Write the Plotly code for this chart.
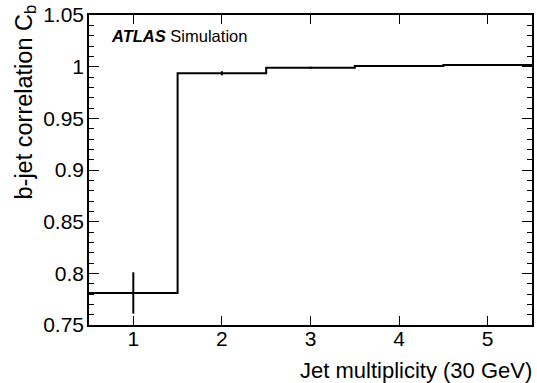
import plotly.graph_objects as go

# Data
bin_centers = [1, 2, 3, 4, 5]
bin_width = 1.0
cb_values = [0.781, 0.9936, 0.9990, 1.0006, 1.0015]
cb_errors = [0.020, 0.0020, 0.0010, 0.0008, 0.0008]
y_tick_vals = [0.75, 0.8, 0.85, 0.9, 0.95, 1.0, 1.05]
y_tick_text = ["0.75", "0.8", "0.85", "0.9", "0.95", "1", "1.05"]
x_tick_vals = [1, 2, 3, 4, 5]
x_tick_text = ["1", "2", "3", "4", "5"]

edges = [c - bin_width / 2 for c in bin_centers] + [bin_centers[-1] + bin_width / 2]
step_y = cb_values + [cb_values[-1]]

FONT = "Liberation Sans, Arial, Helvetica, sans-serif"

fig = go.Figure()
fig.add_trace(go.Scatter(
    x=edges, y=step_y, mode="lines", line=dict(color="black", width=2, shape="hv"),
    showlegend=False, hoverinfo="skip"))
fig.add_trace(go.Scatter(
    x=bin_centers, y=cb_values, mode="markers", marker=dict(size=1, color="black", opacity=0),
    error_y=dict(type="data", array=cb_errors, visible=True, color="black", thickness=2, width=0),
    showlegend=False))

axis_common = dict(
    showline=True, linecolor="black", linewidth=1.5, mirror="ticks",
    ticks="inside", tickcolor="black", tickwidth=1.2,
    showgrid=False, zeroline=False,
    tickfont=dict(family=FONT, size=21, color="black"),
)

fig.update_xaxes(range=[0.5, 5.5], tickvals=x_tick_vals, ticktext=x_tick_text,
                 ticklen=9, ticklabelstandoff=-6, **axis_common)
fig.update_yaxes(range=[0.75, 1.05], tickvals=y_tick_vals, ticktext=y_tick_text,
                 ticklen=10, ticklabelstandoff=-1,
                 minor=dict(dtick=0.01, tick0=0.75, ticks="inside", ticklen=5,
                            tickcolor="black", tickwidth=1.2, showgrid=False),
                 **axis_common)

fig.add_annotation(text="Jet multiplicity (30 GeV)", xref="paper", yref="paper",
                   x=1.004, y=0, xanchor="right", yanchor="top", yshift=-31,
                   showarrow=False, font=dict(family=FONT, size=22, color="black"))
fig.add_annotation(text="b-jet correlation C<sub>b</sub>", xref="paper", yref="paper",
                   x=0, y=1, xanchor="center", yanchor="top", xshift=-64, yshift=12,
                   textangle=-90, showarrow=False,
                   font=dict(family=FONT, size=23.5, color="black"))
fig.add_annotation(text="<b><i>ATLAS</i></b> Simulation", xref="paper", yref="paper",
                   x=0, y=1, xanchor="left", yanchor="top", xshift=20, yshift=-10,
                   showarrow=False, font=dict(family=FONT, size=16.5, color="black"))

fig.update_layout(
    width=537, height=383,
    margin=dict(l=89, r=3, t=13, b=58),
    paper_bgcolor="white", plot_bgcolor="white",
    font=dict(family=FONT, color="black"),
)

fig.write_html("out.html")
